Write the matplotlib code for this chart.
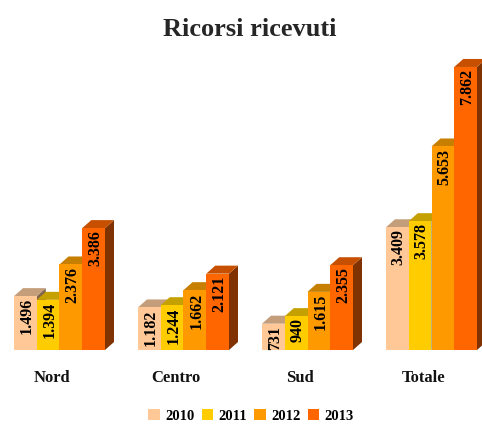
import matplotlib
matplotlib.use("Agg")
import matplotlib.pyplot as plt
from matplotlib.patches import Polygon, Patch

categories = ["Nord", "Centro", "Sud", "Totale"]
years = ["2010", "2011", "2012", "2013"]
v2010 = [1496, 1182, 731, 3409]
v2011 = [1394, 1244, 940, 3578]
v2012 = [2376, 1662, 1615, 5653]
v2013 = [3386, 2121, 2355, 7862]
series = [v2010, v2011, v2012, v2013]

colors = ["#FFC896", "#FFCC00", "#FF9900", "#FF6600"]
tops = ["#C49E7A", "#C4A000", "#C67F00", "#C65000"]
sides = ["#80644B", "#806600", "#804D00", "#803300"]

plt.rcParams["font.family"] = ["Liberation Serif", "DejaVu Serif"]

W, H = 482, 424
GROUP_PX = 124
UNIT_PX = 0.036
BASE_PX = 350
LEFT_PX = 14

bar_w = 22.75 / GROUP_PX
dx = 9 / GROUP_PX
dy = 8 / UNIT_PX

fig = plt.figure(figsize=(W / 100, H / 100), dpi=100)
ax = fig.add_axes([0, 0, 1, 1])
ax.set_xlim(-LEFT_PX / GROUP_PX, (W - LEFT_PX) / GROUP_PX)
ax.set_ylim(-(H - BASE_PX) / UNIT_PX, BASE_PX / UNIT_PX)
ax.axis("off")

for s, values in enumerate(series):
    for i, v in enumerate(values):
        x0 = i + s * bar_w
        x1 = x0 + bar_w
        z = 2 + s
        # side and top faces go behind the front of the next bar
        ax.add_patch(Polygon([(x1, 0), (x1 + dx, dy), (x1 + dx, v + dy), (x1, v)],
                             facecolor=sides[s], edgecolor="none", zorder=z))
        ax.add_patch(Polygon([(x0, v), (x0 + dx, v + dy), (x1 + dx, v + dy), (x1, v)],
                             facecolor=tops[s], edgecolor="none", zorder=z))
        ax.bar(x0, v, width=bar_w, align="edge", color=colors[s], linewidth=0, zorder=z + 0.5)
        label = f"{v:,}".replace(",", ".")
        ax.annotate(label, (x0 + bar_w / 2, v), xytext=(1, -1.5), textcoords="offset points",
                    rotation=90, ha="center", va="top", fontsize=11.5, fontweight="bold",
                    color="black", zorder=10)

for i, name in enumerate(categories):
    ax.text(i + 38 / GROUP_PX, -27.5 / UNIT_PX, name, ha="center", va="center",
            fontsize=12, fontweight="bold", color="#111111")

fig.text(249.5 / W, 1 - 29 / H, "Ricorsi ricevuti", ha="center", va="center",
         fontsize=19, fontweight="bold", color="#262626")

handles = [Patch(facecolor=c, edgecolor="none") for c in colors]
fig.legend(handles, years, loc="center", bbox_to_anchor=(251 / W, 1 - 416 / H), ncol=4,
           frameon=False, prop={"weight": "bold", "size": 10.5},
           handlelength=0.8, handleheight=0.8, handletextpad=0.35, columnspacing=0.5)

fig.savefig("out.png", dpi=100)
